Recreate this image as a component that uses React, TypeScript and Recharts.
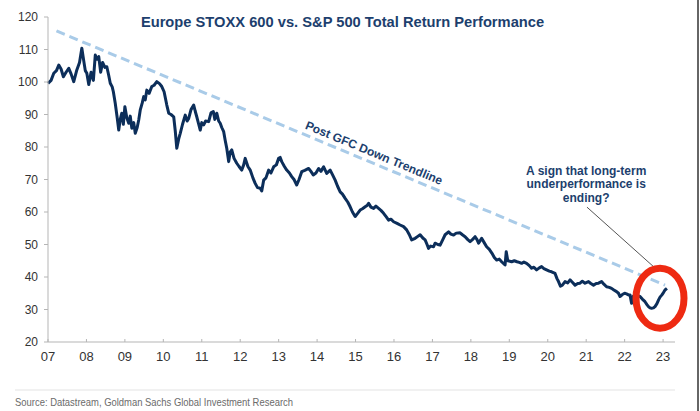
import React from 'react';
import { ComposedChart, Line, XAxis, YAxis, ReferenceLine, ReferenceDot } from 'recharts';

// decimal year of each reading
const dates = [
  2007.0, 2007.08, 2007.15, 2007.22, 2007.28, 2007.34, 2007.4, 2007.47, 2007.54, 2007.6,
  2007.67, 2007.75, 2007.82, 2007.88, 2007.93, 2007.97, 2008.01, 2008.06, 2008.12, 2008.18,
  2008.23, 2008.28, 2008.32, 2008.37, 2008.42, 2008.48, 2008.53, 2008.58, 2008.62, 2008.67,
  2008.7, 2008.75, 2008.8, 2008.84, 2008.88, 2008.92, 2008.96, 2009.0, 2009.05, 2009.1,
  2009.14, 2009.18, 2009.23, 2009.27, 2009.32, 2009.36, 2009.4, 2009.45, 2009.49, 2009.53,
  2009.57, 2009.63, 2009.7, 2009.76, 2009.83, 2009.9, 2009.96, 2010.02, 2010.09, 2010.14,
  2010.2, 2010.27, 2010.31, 2010.35, 2010.4, 2010.44, 2010.5, 2010.57, 2010.62, 2010.66,
  2010.72, 2010.79, 2010.83, 2010.87, 2010.92, 2010.96, 2011.0, 2011.05, 2011.1, 2011.18,
  2011.24, 2011.3, 2011.34, 2011.39, 2011.44, 2011.48, 2011.52, 2011.57, 2011.61, 2011.65,
  2011.7, 2011.74, 2011.78, 2011.84, 2011.91, 2011.97, 2012.04, 2012.09, 2012.13, 2012.2,
  2012.26, 2012.33, 2012.39, 2012.45, 2012.52, 2012.56, 2012.61, 2012.67, 2012.74, 2012.8,
  2012.87, 2012.94, 2013.0, 2013.04, 2013.08, 2013.15, 2013.21, 2013.28, 2013.34, 2013.4,
  2013.47, 2013.53, 2013.6, 2013.68, 2013.78, 2013.84, 2013.9, 2013.97, 2014.04, 2014.1,
  2014.17, 2014.25, 2014.34, 2014.4, 2014.47, 2014.53, 2014.6, 2014.66, 2014.73, 2014.8,
  2014.86, 2014.92, 2014.99, 2015.05, 2015.12, 2015.18, 2015.25, 2015.3, 2015.34, 2015.4,
  2015.47, 2015.53, 2015.6, 2015.66, 2015.73, 2015.8, 2015.86, 2015.92, 2015.99, 2016.08,
  2016.16, 2016.25, 2016.33, 2016.4, 2016.46, 2016.55, 2016.62, 2016.68, 2016.75, 2016.81,
  2016.86, 2016.9, 2016.95, 2017.03, 2017.07, 2017.14, 2017.2, 2017.27, 2017.33, 2017.42,
  2017.48, 2017.55, 2017.62, 2017.72, 2017.78, 2017.85, 2017.92, 2017.98, 2018.04, 2018.11,
  2018.16, 2018.2, 2018.28, 2018.35, 2018.41, 2018.48, 2018.55, 2018.61, 2018.67, 2018.74,
  2018.8, 2018.89, 2018.92, 2018.96, 2019.06, 2019.13, 2019.2, 2019.26, 2019.32, 2019.38,
  2019.45, 2019.52, 2019.58, 2019.64, 2019.71, 2019.78, 2019.84, 2019.9, 2019.97, 2020.04,
  2020.1, 2020.19, 2020.24, 2020.28, 2020.33, 2020.38, 2020.45, 2020.52, 2020.58, 2020.64,
  2020.71, 2020.78, 2020.84, 2020.9, 2020.97, 2021.06, 2021.12, 2021.19, 2021.26, 2021.32,
  2021.4, 2021.46, 2021.53, 2021.6, 2021.66, 2021.72, 2021.79, 2021.84, 2021.88, 2021.94,
  2022.0, 2022.05, 2022.1, 2022.14, 2022.18, 2022.22, 2022.27, 2022.34, 2022.4, 2022.46,
  2022.53, 2022.58, 2022.62, 2022.66, 2022.7, 2022.75, 2022.79, 2022.84, 2022.88, 2022.92,
  2022.97, 2023.01, 2023.05, 2023.1,
];

// relative performance, Europe vs US (Jan 2007 = 100)
const relPerf = [
  99.6, 100.5, 102.7, 103.5, 105.2, 104.0, 101.6, 103.0, 104.2, 102.5,
  100.1, 103.7, 106.0, 110.4, 106.5, 103.5, 102.7, 99.2, 103.0, 100.5,
  108.3, 107.0, 107.8, 103.0, 106.0, 104.5, 104.7, 102.0, 99.6, 98.5,
  97.0, 93.4, 89.0, 85.2, 88.5, 90.4, 87.0, 92.4, 89.0, 87.3,
  89.5, 85.8, 87.5, 84.2, 86.0, 88.3, 91.4, 93.5, 95.5, 94.5,
  97.5, 96.5, 98.6, 99.0, 100.1, 99.5, 98.6, 97.0, 92.9, 90.4,
  90.0, 89.3, 85.0, 79.6, 82.5, 84.2, 87.0, 89.8, 88.0, 88.8,
  91.5, 92.9, 91.0, 89.3, 87.0, 85.2, 87.5, 86.8, 88.0, 87.8,
  90.5, 90.9, 88.5, 90.4, 88.0, 87.3, 86.0, 84.7, 82.0, 79.6,
  75.5, 78.5, 79.1, 76.5, 75.0, 74.0, 72.9, 74.5, 76.5, 74.0,
  72.9, 70.5, 68.8, 67.5, 67.3, 66.5, 69.8, 70.5, 72.9, 72.0,
  73.9, 74.5, 76.5, 76.8, 75.5, 74.0, 72.9, 72.0, 70.9, 70.0,
  68.3, 70.0, 72.4, 72.8, 73.4, 72.5, 71.4, 72.0, 73.4, 72.5,
  73.9, 71.9, 72.9, 71.5, 69.8, 68.0, 66.2, 65.5, 64.2, 63.0,
  61.6, 60.0, 58.6, 59.5, 60.6, 61.0, 61.6, 62.0, 62.7, 61.5,
  61.1, 61.8, 61.1, 60.5, 59.6, 58.5, 57.5, 57.8, 57.0, 56.5,
  56.0, 55.5, 54.5, 53.0, 51.4, 51.9, 52.5, 53.0, 52.0, 51.4,
  50.0, 48.8, 49.5, 49.3, 50.4, 50.0, 49.8, 51.5, 53.0, 53.9,
  53.2, 52.9, 53.5, 53.6, 53.0, 52.4, 51.5, 50.9, 51.5, 52.4,
  51.5, 50.4, 51.9, 50.5, 49.3, 48.5, 47.3, 46.0, 45.2, 45.5,
  44.7, 43.7, 47.8, 45.0, 44.7, 45.0, 44.7, 44.5, 44.2, 44.6,
  44.2, 43.5, 42.7, 43.0, 42.2, 42.8, 43.2, 42.6, 42.2, 41.8,
  41.6, 41.1, 39.5, 38.6, 37.2, 37.5, 38.6, 38.2, 39.1, 38.4,
  37.5, 38.0, 38.1, 38.7, 38.1, 38.6, 38.0, 37.5, 38.0, 38.1,
  38.6, 37.8, 37.0, 36.8, 36.5, 36.0, 35.5, 35.0, 34.0, 34.6,
  35.0, 34.8, 34.5, 34.5, 31.9, 34.0, 34.5, 34.2, 34.0, 33.2,
  32.4, 31.5, 30.9, 30.5, 30.4, 30.5, 30.9, 31.8, 32.9, 33.8,
  34.5, 35.2, 36.0, 36.5,
];

const yearTicks = [2007, 2008, 2009, 2010, 2011, 2012, 2013, 2014, 2015, 2016, 2017, 2018, 2019, 2020, 2021, 2022, 2023];
const valueTicks = [20, 30, 40, 50, 60, 70, 80, 90, 100, 110, 120];

// post-GFC trendline end points
const trendStart = { x: 2007.22, y: 115.7 };
const trendEnd = { x: 2023.05, y: 37.5 };

const annotationLines = ['A sign that long-term', 'underperformance is', 'ending?'];

const data = dates.map((t, i) => ({ t, v: relPerf[i] }));

const NAVY = '#1d3f6e';
const FONT = "'Liberation Sans', Arial, sans-serif";

const XTick = (props: any) => {
  const { x, y, payload } = props;
  const label = String(Math.round(payload.value) % 100).padStart(2, '0');
  return (
    <g>
      <line x1={x} x2={x} y1={y - 10} y2={y - 13} stroke="#b5b5b5" />
      <text x={x} y={y} dy="0.71em" textAnchor="middle" fontSize={13} fill="#333">
        {label}
      </text>
    </g>
  );
};

export default function App() {
  return (
    <div style={{ position: 'absolute', left: 0, top: 0, width: 700, height: 411, background: '#fff', fontFamily: FONT }}>
      <ComposedChart width={700} height={411} data={data} margin={{ top: 17, right: 25, bottom: 39, left: 0 }}>
        <XAxis
          type="number"
          dataKey="t"
          domain={[2007, 2023.31]}
          ticks={yearTicks}
          tick={<XTick />}
          tickLine={false}
          tickSize={4}
          tickMargin={6}
          axisLine={{ stroke: '#b5b5b5' }}
          height={30}
        />
        <YAxis
          domain={[20, 120]}
          ticks={valueTicks}
          width={48}
          tickSize={4}
          tickMargin={6}
          tick={{ fontSize: 12, fill: '#333' }}
          tickLine={{ stroke: '#b5b5b5' }}
          axisLine={{ stroke: '#b5b5b5' }}
        />
        <ReferenceLine
          segment={[trendStart, trendEnd]}
          stroke="#a9cbe8"
          strokeWidth={3}
          strokeDasharray="9 5"
        />
        <Line
          dataKey="v"
          type="linear"
          stroke="#0c2e5a"
          strokeWidth={3}
          strokeLinejoin="round"
          dot={false}
          isAnimationActive={false}
        />
        <ReferenceLine
          segment={[{ x: 2021.02, y: 61.5 }, { x: 2022.76, y: 43.1 }]}
          stroke="#555"
          strokeWidth={1}
        />
        <ReferenceDot
          x={2022.92}
          y={33.5}
          shape={(p: any) => (
            <ellipse cx={p.cx} cy={p.cy} rx={24} ry={30} fill="none" stroke="#ee2a12" strokeWidth={7} />
          )}
        />
        <ReferenceDot
          x={2015.48}
          y={78.15}
          shape={(p: any) => (
            <text
              x={p.cx}
              y={p.cy}
              textAnchor="middle"
              dominantBaseline="central"
              transform={`rotate(22.6, ${p.cx}, ${p.cy})`}
              fontSize={12}
              fontWeight="bold"
              fill={NAVY}
            >
              Post GFC Down Trendline
            </text>
          )}
        />
        <ReferenceDot
          x={2021.0}
          y={71.4}
          shape={(p: any) => (
            <text x={p.cx} y={p.cy} textAnchor="middle" fontSize={12} fontWeight="bold" fill={NAVY}>
              {annotationLines.map((s, i) => (
                <tspan key={i} x={p.cx} dy={i === 0 ? 0 : 13.5}>
                  {s}
                </tspan>
              ))}
            </text>
          )}
        />
      </ComposedChart>
      <svg width={700} height={411} style={{ position: 'absolute', left: 0, top: 0, pointerEvents: 'none' }}>
        <text x={342.5} y={27.3} textAnchor="middle" fontSize={14.7} fontWeight="bold" fill={NAVY} fontFamily={FONT}>
          Europe STOXX 600 vs. S&amp;P 500 Total Return Performance
        </text>
        <line x1={15} x2={675} y1={390} y2={390} stroke="#e3e3e3" />
        <text
          x={15}
          y={406}
          fontSize={11.5}
          fill="#6b6b6b"
          textLength={278}
          lengthAdjust="spacingAndGlyphs"
          fontFamily="'Liberation Sans Narrow', 'Arial Narrow', 'Liberation Sans', Arial, sans-serif"
        >
          Source: Datastream, Goldman Sachs Global Investment Research
        </text>
        <line x1={698} x2={698} y1={0} y2={411} stroke="#666" strokeWidth={2} />
      </svg>
    </div>
  );
}
